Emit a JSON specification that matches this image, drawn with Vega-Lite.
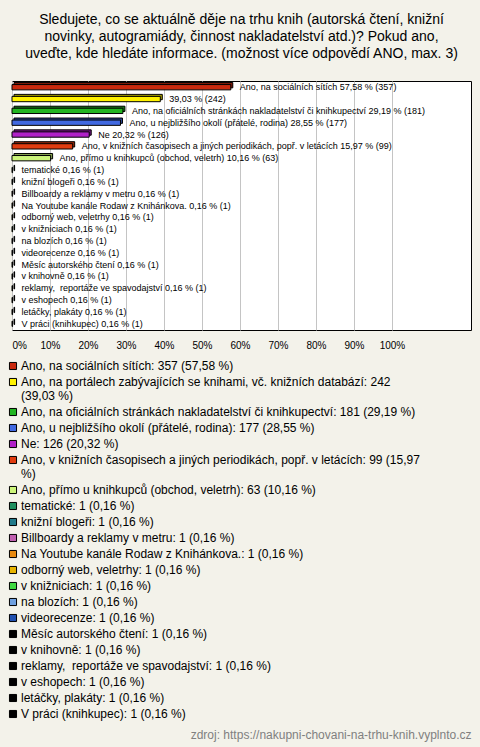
{
  "$schema": "https://vega.github.io/schema/vega-lite/v6.json",
  "autosize": {"type": "none"},
  "padding": {"left": 12, "top": 81, "right": 9, "bottom": 417},
  "width": 459,
  "height": 249,
  "background": "#f3f2ea",
  "title": {
    "text": ["Sledujete, co se aktuálně děje na trhu knih (autorská čtení, knižní", "novinky, autogramiády, činnost nakladatelství atd.)? Pokud ano,", "uveďte, kde hledáte informace. (možnost více odpovědí ANO, max. 3)"],
    "font": "Liberation Sans", "fontSize": 14, "fontWeight": "normal", "lineHeight": 17,
    "color": "#000000", "anchor": "middle", "frame": "group", "offset": 20
  },
  "config": {
    "view": {"fill": "#ffffff", "stroke": "#000000", "strokeWidth": 1},
    "font": "Liberation Sans"
  },
  "data": {"values": [
    {"name": "Ano, na sociálních sítích", "count": 357, "pct": 0.5758, "label": "Ano, na sociálních sítích 57,58 % (357)", "legend": "Ano, na sociálních sítích: 357 (57,58 %)"},
    {"name": "Ano, na portálech zabývajících se knihami, vč. knižních databází", "count": 242, "pct": 0.3903, "label": "39,03 % (242)", "legend": "Ano, na portálech zabývajících se knihami, vč. knižních databází: 242|(39,03 %)"},
    {"name": "Ano, na oficiálních stránkách nakladatelství či knihkupectví", "count": 181, "pct": 0.2919, "label": "Ano, na oficiálních stránkách nakladatelství či knihkupectví 29,19 % (181)", "legend": "Ano, na oficiálních stránkách nakladatelství či knihkupectví: 181 (29,19 %)"},
    {"name": "Ano, u nejbližšího okolí (přátelé, rodina)", "count": 177, "pct": 0.2855, "label": "Ano, u nejbližšího okolí (přátelé, rodina) 28,55 % (177)", "legend": "Ano, u nejbližšího okolí (přátelé, rodina): 177 (28,55 %)"},
    {"name": "Ne", "count": 126, "pct": 0.2032, "label": "Ne 20,32 % (126)", "legend": "Ne: 126 (20,32 %)"},
    {"name": "Ano, v knižních časopisech a jiných periodikách, popř. v letácích", "count": 99, "pct": 0.1597, "label": "Ano, v knižních časopisech a jiných periodikách, popř. v letácích 15,97 % (99)", "legend": "Ano, v knižních časopisech a jiných periodikách, popř. v letácích: 99 (15,97|%)"},
    {"name": "Ano, přímo u knihkupců (obchod, veletrh)", "count": 63, "pct": 0.1016, "label": "Ano, přímo u knihkupců (obchod, veletrh) 10,16 % (63)", "legend": "Ano, přímo u knihkupců (obchod, veletrh): 63 (10,16 %)"},
    {"name": "tematické", "count": 1, "pct": 0.0016, "label": "tematické 0,16 % (1)", "legend": "tematické: 1 (0,16 %)"},
    {"name": "knižní blogeři", "count": 1, "pct": 0.0016, "label": "knižní blogeři 0,16 % (1)", "legend": "knižní blogeři: 1 (0,16 %)"},
    {"name": "Billboardy a reklamy v metru", "count": 1, "pct": 0.0016, "label": "Billboardy a reklamy v metru 0,16 % (1)", "legend": "Billboardy a reklamy v metru: 1 (0,16 %)"},
    {"name": "Na Youtube kanále Rodaw z Knihánkova.", "count": 1, "pct": 0.0016, "label": "Na Youtube kanále Rodaw z Knihánkova. 0,16 % (1)", "legend": "Na Youtube kanále Rodaw z Knihánkova.: 1 (0,16 %)"},
    {"name": "odborný web, veletrhy", "count": 1, "pct": 0.0016, "label": "odborný web, veletrhy 0,16 % (1)", "legend": "odborný web, veletrhy: 1 (0,16 %)"},
    {"name": "v knižniciach", "count": 1, "pct": 0.0016, "label": "v knižniciach 0,16 % (1)", "legend": "v knižniciach: 1 (0,16 %)"},
    {"name": "na blozích", "count": 1, "pct": 0.0016, "label": "na blozích 0,16 % (1)", "legend": "na blozích: 1 (0,16 %)"},
    {"name": "videorecenze", "count": 1, "pct": 0.0016, "label": "videorecenze 0,16 % (1)", "legend": "videorecenze: 1 (0,16 %)"},
    {"name": "Měsíc autorského čtení", "count": 1, "pct": 0.0016, "label": "Měsíc autorského čtení 0,16 % (1)", "legend": "Měsíc autorského čtení: 1 (0,16 %)"},
    {"name": "v knihovně", "count": 1, "pct": 0.0016, "label": "v knihovně 0,16 % (1)", "legend": "v knihovně: 1 (0,16 %)"},
    {"name": "reklamy,  reportáže ve spavodajství", "count": 1, "pct": 0.0016, "label": "reklamy, \u00a0reportáže ve spavodajství 0,16 % (1)", "legend": "reklamy, \u00a0reportáže ve spavodajství: 1 (0,16 %)"},
    {"name": "v eshopech", "count": 1, "pct": 0.0016, "label": "v eshopech 0,16 % (1)", "legend": "v eshopech: 1 (0,16 %)"},
    {"name": "letáčky, plakáty", "count": 1, "pct": 0.0016, "label": "letáčky, plakáty 0,16 % (1)", "legend": "letáčky, plakáty: 1 (0,16 %)"},
    {"name": "V práci (knihkupec)", "count": 1, "pct": 0.0016, "label": "V práci (knihkupec) 0,16 % (1)", "legend": "V práci (knihkupec): 1 (0,16 %)"}
  ]},
  "encoding": {
    "y": {"field": "name", "type": "nominal", "sort": null, "axis": null,
          "scale": {"paddingInner": 0.55, "paddingOuter": 0.3}},
    "x": {"field": "pct", "type": "quantitative",
          "scale": {"domain": [0, 1.208], "nice": false, "zero": true},
          "axis": {
            "values": [0, 0.1, 0.2, 0.3, 0.4, 0.5, 0.6, 0.7, 0.8, 0.9, 1],
            "format": ".0%", "grid": true, "gridColor": "#c4c4c4", "gridWidth": 1,
            "domain": false, "ticks": false, "labelFlush": true,
            "labelFont": "Liberation Sans", "labelFontSize": 10, "labelColor": "#000000", "labelPadding": 10,
            "title": "zdroj: https://nakupni-chovani-na-trhu-knih.vyplnto.cz",
            "titleFont": "Liberation Sans", "titleFontSize": 12, "titleFontWeight": "normal",
            "titleColor": "#808080", "titleAnchor": "end", "titleAlign": "right", "titleBaseline": "middle",
            "titleY": 404
          }}
  },
  "layer": [
    {
      "mark": {"type": "bar", "xOffset": 2, "x2Offset": 2, "yOffset": -2, "stroke": "#000000", "strokeWidth": 1},
      "encoding": {
        "color": {"field": "legend", "type": "nominal",
          "scale": {
            "domain": [
              "Ano, na sociálních sítích: 357 (57,58 %)",
              "Ano, na portálech zabývajících se knihami, vč. knižních databází: 242|(39,03 %)",
              "Ano, na oficiálních stránkách nakladatelství či knihkupectví: 181 (29,19 %)",
              "Ano, u nejbližšího okolí (přátelé, rodina): 177 (28,55 %)",
              "Ne: 126 (20,32 %)",
              "Ano, v knižních časopisech a jiných periodikách, popř. v letácích: 99 (15,97|%)",
              "Ano, přímo u knihkupců (obchod, veletrh): 63 (10,16 %)",
              "tematické: 1 (0,16 %)",
              "knižní blogeři: 1 (0,16 %)",
              "Billboardy a reklamy v metru: 1 (0,16 %)",
              "Na Youtube kanále Rodaw z Knihánkova.: 1 (0,16 %)",
              "odborný web, veletrhy: 1 (0,16 %)",
              "v knižniciach: 1 (0,16 %)",
              "na blozích: 1 (0,16 %)",
              "videorecenze: 1 (0,16 %)",
              "Měsíc autorského čtení: 1 (0,16 %)",
              "v knihovně: 1 (0,16 %)",
              "reklamy, \u00a0reportáže ve spavodajství: 1 (0,16 %)",
              "v eshopech: 1 (0,16 %)",
              "letáčky, plakáty: 1 (0,16 %)",
              "V práci (knihkupec): 1 (0,16 %)"
            ],
            "range": ["#c8290e", "#fff200", "#22b522", "#4169e1", "#b020c8", "#e03c10", "#ccf57a", "#1f8f5f", "#217a8a", "#c060b0", "#e88a10", "#e8b400", "#40d840", "#6fa0e0", "#2050b0", "#000000", "#000000", "#000000", "#000000", "#000000", "#000000"]
          },
          "legend": {
            "orient": "none", "legendX": -5, "legendY": 279, "direction": "vertical", "columns": 1,
            "title": null, "padding": 0, "symbolType": "square", "symbolSize": 50,
            "symbolStrokeColor": "#000000", "symbolStrokeWidth": 1, "symbolOpacity": 1,
            "labelFont": "Liberation Sans", "labelFontSize": 12, "labelColor": "#000000",
            "labelOffset": 2, "labelLimit": 0, "rowPadding": 4,
            "labelExpr": "split(datum.label, '|')"
          }}
      }
    },
    {
      "mark": {"type": "bar", "xOffset": 2, "x2Offset": 2, "yOffset": -2, "fill": "#000000", "fillOpacity": 0.35, "strokeWidth": 0}
    },
    {
      "mark": {"type": "bar", "stroke": "#000000", "strokeWidth": 1},
      "encoding": {"color": {"field": "legend", "type": "nominal"}}
    },
    {
      "mark": {"type": "text", "align": "left", "baseline": "middle", "dx": 9, "font": "Liberation Sans", "fontSize": 9, "color": "#000000"},
      "encoding": {"text": {"field": "label", "type": "nominal"}}
    }
  ]
}
